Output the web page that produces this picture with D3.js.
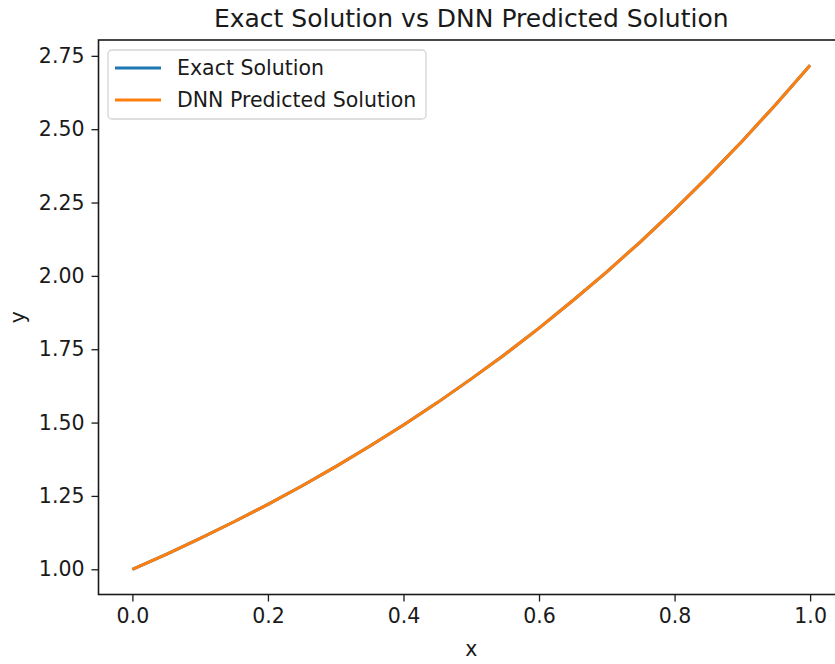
<!DOCTYPE html>
<html>
<head>
<meta charset="utf-8">
<script src="https://cdn.jsdelivr.net/npm/d3@7"></script>
<style>
  body { margin: 0; background: #fff; }
  svg { display: block; font-family: "DejaVu Sans", sans-serif; }
</style>
</head>
<body>
<svg id="chart" width="835" height="664"></svg>
<script>
// Data
const xValues = [0.00, 0.05, 0.10, 0.15, 0.20, 0.25, 0.30, 0.35, 0.40, 0.45, 0.50,
                 0.55, 0.60, 0.65, 0.70, 0.75, 0.80, 0.85, 0.90, 0.95, 1.00];
const exactValues = [1.000, 1.051, 1.105, 1.162, 1.221, 1.284, 1.350, 1.419, 1.492, 1.568, 1.649,
                     1.733, 1.822, 1.916, 2.014, 2.117, 2.226, 2.340, 2.460, 2.586, 2.718];
const dnnValues = [1.000, 1.051, 1.105, 1.162, 1.221, 1.284, 1.350, 1.419, 1.492, 1.568, 1.649,
                   1.733, 1.822, 1.916, 2.014, 2.117, 2.226, 2.340, 2.460, 2.586, 2.718];
const xTicks = [0.0, 0.2, 0.4, 0.6, 0.8, 1.0];
const yTicks = [1.00, 1.25, 1.50, 1.75, 2.00, 2.25, 2.50, 2.75];
const seriesNames = ["Exact Solution", "DNN Predicted Solution"];
const seriesColors = ["#1f77b4", "#ff7f0e"];
const titleText = "Exact Solution vs DNN Predicted Solution";

(function () {
const svg = d3.select("#chart");
const pLeft = 98.5, pRight = 844, pTop = 40, pBottom = 594.5;
const textColor = "#1a1a1a";
const fs = 20.5;

const x = d3.scaleLinear().domain([-0.05, 1.05]).range([pLeft, pRight]);
const y = d3.scaleLinear().domain([0.914, 2.804]).range([pBottom, pTop]);

// Axes
const xAxis = d3.axisBottom(x).tickValues(xTicks).tickFormat(d3.format(".1f")).tickSize(7).tickPadding(7);
const yAxis = d3.axisLeft(y).tickValues(yTicks).tickFormat(d3.format(".2f")).tickSize(7).tickPadding(7);

const gx = svg.append("g").attr("transform", `translate(0,${pBottom})`).call(xAxis);
const gy = svg.append("g").attr("transform", `translate(${pLeft},0)`).call(yAxis);
[gx, gy].forEach(g => {
  g.select(".domain").remove();
  g.selectAll(".tick line").attr("stroke", textColor).attr("stroke-width", 1.3);
  g.selectAll(".tick text").attr("fill", textColor).attr("font-size", fs).attr("font-family", "DejaVu Sans");
});

// Lines
const line = d3.line().x((d, i) => x(xValues[i])).y(d => y(d));
svg.append("path").datum(exactValues).attr("d", line)
  .attr("fill", "none").attr("stroke", seriesColors[0]).attr("stroke-width", 3);
svg.append("path").datum(dnnValues).attr("d", line)
  .attr("fill", "none").attr("stroke", seriesColors[1]).attr("stroke-width", 3);

// Spines
svg.append("rect").attr("x", pLeft).attr("y", pTop).attr("width", pRight - pLeft).attr("height", pBottom - pTop)
  .attr("fill", "none").attr("stroke", textColor).attr("stroke-width", 1.6);

// Title and labels
svg.append("text").attr("x", (pLeft + pRight) / 2).attr("y", 27).attr("text-anchor", "middle")
  .attr("font-size", 25).attr("fill", textColor).text(titleText);
svg.append("text").attr("x", (pLeft + pRight) / 2).attr("y", 656).attr("text-anchor", "middle")
  .attr("font-size", fs).attr("fill", textColor).text("x");
svg.append("text").attr("transform", `translate(25,${(pTop + pBottom) / 2}) rotate(-90)`).attr("text-anchor", "middle")
  .attr("font-size", fs).attr("fill", textColor).text("y");

// Legend
const lg = svg.append("g");
lg.append("rect").attr("x", 108).attr("y", 50).attr("width", 318).attr("height", 69).attr("rx", 4)
  .attr("fill", "#fff").attr("fill-opacity", 0.8).attr("stroke", "#d4d4d4").attr("stroke-width", 1.3);
seriesNames.forEach((name, i) => {
  const cy = 68 + i * 32;
  lg.append("line").attr("x1", 115).attr("x2", 161).attr("y1", cy).attr("y2", cy)
    .attr("stroke", seriesColors[i]).attr("stroke-width", 3);
  lg.append("text").attr("x", 177).attr("y", cy).attr("dy", "0.36em")
    .attr("font-size", fs).attr("fill", textColor).text(name);
});
})();
</script>
</body>
</html>
